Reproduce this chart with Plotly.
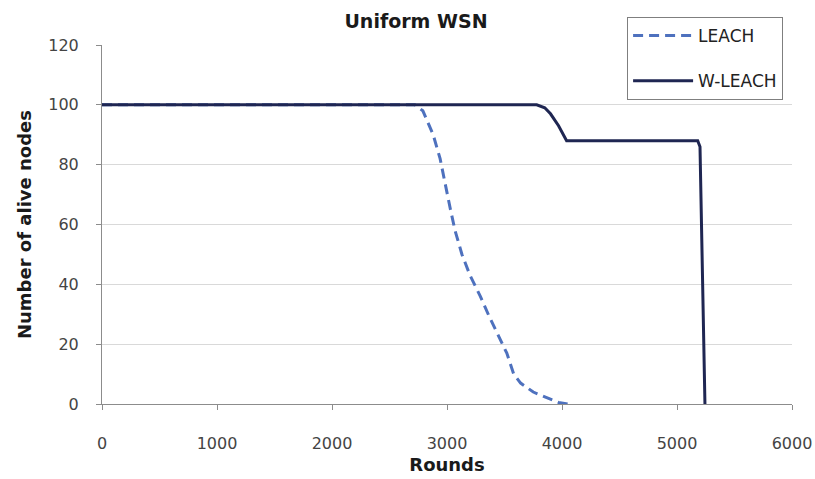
import plotly.graph_objects as go

leach_x = [0, 2720, 2790, 2880, 2940, 2980, 3030, 3070, 3130, 3200, 3290, 3370, 3460, 3520, 3580, 3640, 3750, 3870, 3970, 4050]
leach_y = [100, 100, 98, 90, 82, 74, 65, 58, 50, 43, 36, 29, 22, 17, 10, 7, 4, 2, 0.5, 0]

wleach_x = [0, 3780, 3850, 3900, 3970, 4040, 5180, 5200, 5243]
wleach_y = [100, 100, 99, 97, 93, 88, 88, 86, 0]

x_ticks = [0, 1000, 2000, 3000, 4000, 5000, 6000]
y_ticks = [0, 20, 40, 60, 80, 100, 120]

font_family = "'DejaVu Sans', sans-serif"

fig = go.Figure()
fig.add_trace(go.Scatter(
    x=leach_x, y=leach_y, mode="lines", name="LEACH", legendgroup="a",
    line=dict(color="#4E71BE", width=3, dash="10px,6px"),
))
fig.add_trace(go.Scatter(
    x=wleach_x, y=wleach_y, mode="lines", name="W-LEACH", legendgroup="b",
    line=dict(color="#1F2652", width=3),
))

# plot area at x 102-792, y 45-404 of the 815x479 page
fig.update_layout(
    width=815, height=479,
    margin=dict(l=102, r=23, t=45, b=75, autoexpand=False),
    paper_bgcolor="white", plot_bgcolor="white",
    font=dict(family=font_family, color="#333333", size=16),
    title=dict(text="<b>Uniform WSN</b>", x=416 / 815, xanchor="center",
               y=1 - 21 / 479, yanchor="middle", xref="container", yref="container",
               font=dict(size=19, color="#1a1a1a")),
    showlegend=True,
    legend=dict(
        x=0.761, y=1.078, xanchor="left", yanchor="top",
        bordercolor="#7f7f7f", borderwidth=1, bgcolor="white",
        font=dict(size=17, color="#222222"),
        tracegroupgap=20, itemwidth=60, entrywidth=170,
    ),
    xaxis=dict(
        range=[0, 6000], tickvals=x_ticks, ticktext=[str(v) for v in x_ticks],
        showgrid=False, zeroline=False, automargin=False,
        showline=True, linecolor="#8c8c8c", linewidth=1,
        ticks="outside", ticklen=5, tickcolor="#8c8c8c",
        ticklabelstandoff=20,
        tickfont=dict(size=16, color="#444444"),
        title=dict(text="<b>Rounds</b>", font=dict(size=18, color="#1a1a1a"), standoff=6),
    ),
    yaxis=dict(
        range=[0, 120], tickvals=y_ticks, ticktext=[str(v) for v in y_ticks],
        showgrid=True, gridcolor="#d9d9d9", gridwidth=1, zeroline=False, automargin=False,
        showline=True, linecolor="#8c8c8c", linewidth=1,
        ticks="outside", ticklen=5, tickcolor="#8c8c8c",
        ticklabelstandoff=14,
        tickfont=dict(size=16, color="#444444"),
        title=dict(text="<b>Number of alive nodes</b>", font=dict(size=18, color="#1a1a1a"), standoff=11),
    ),
)

fig.write_html(
    "out.html",
    config={"displayModeBar": False},
    post_script="document.body.style.margin='0';document.body.style.overflow='hidden';",
)
